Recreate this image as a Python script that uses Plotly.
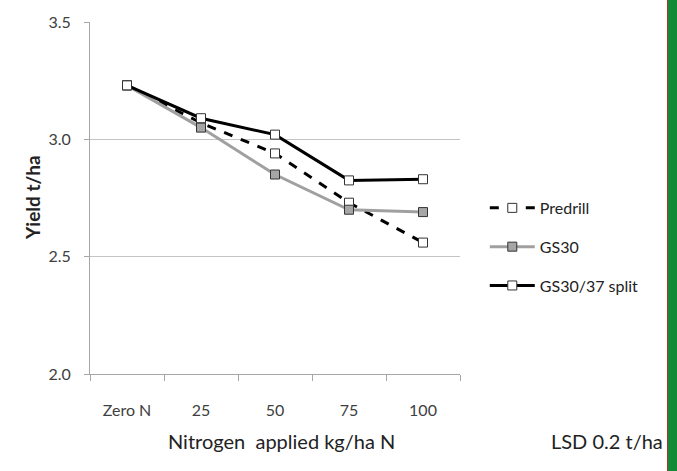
import plotly.graph_objects as go

categories = ["Zero N", "25", "50", "75", "100"]
predrill = [3.23, 3.07, 2.94, 2.73, 2.56]
gs30 = [3.23, 3.05, 2.85, 2.70, 2.69]
gs30_37 = [3.23, 3.09, 3.02, 2.825, 2.83]

FONT = "Lato, Open Sans, sans-serif"

fig = go.Figure()
fig.add_trace(go.Scatter(
    x=categories, y=predrill, name="Predrill", mode="lines+markers",
    line=dict(color="black", width=3, dash="dash"),
    marker=dict(symbol="square", size=9, color="white", line=dict(color="#333", width=1)),
    legendgroup="a"))
fig.add_trace(go.Scatter(
    x=categories, y=gs30, name="GS30", mode="lines+markers",
    line=dict(color="#a0a0a0", width=3),
    marker=dict(symbol="square", size=9, color="#a6a6a6", line=dict(color="#333", width=1)),
    legendgroup="b"))
fig.add_trace(go.Scatter(
    x=categories, y=gs30_37, name="GS30/37 split", mode="lines+markers",
    line=dict(color="black", width=3),
    marker=dict(symbol="square", size=9, color="white", line=dict(color="#333", width=1)),
    legendgroup="c"))

fig.update_layout(
    width=677, height=471,
    margin=dict(l=90, r=217, t=19, b=97),
    paper_bgcolor="white", plot_bgcolor="white",
    font=dict(family=FONT, size=15, color="#404040"),
    showlegend=True,
    legend=dict(x=1.067, y=0.52, xanchor="left", yanchor="top", itemwidth=45,
                font=dict(family=FONT, size=16, color="#222"),
                tracegroupgap=15, bgcolor="rgba(0,0,0,0)"),
    xaxis=dict(type="category", range=[-0.5, 4.5], showgrid=False,
               showline=True, linecolor="#a6a6a6", linewidth=1,
               ticks="outside", tickson="boundaries", ticklen=6, tickcolor="#a6a6a6",
               ticklabelstandoff=22, tickfont=dict(size=16, color="#404040")),
    yaxis=dict(range=[2.0, 3.5], dtick=0.5, tickformat=".1f",
               showgrid=True, gridcolor="#c4c4c4", gridwidth=1,
               showline=True, linecolor="#a6a6a6", linewidth=1,
               ticks="outside", ticklen=5, tickcolor="#a6a6a6", ticklabelstandoff=10,
               tickfont=dict(size=16, color="#404040"), zeroline=False),
    annotations=[
        dict(text="<b>Yield t/ha</b>", textangle=-90, xref="paper", yref="paper",
             x=(19 - 90) / 370, y=(374 - 196) / 355, showarrow=False,
             font=dict(size=19, color="#222")),
        dict(text="Nitrogen  applied kg/ha N", xref="paper", yref="paper",
             x=(281 - 90) / 370, y=(374 - 456) / 355, showarrow=False,
             font=dict(size=20, color="#222")),
        dict(text="LSD 0.2 t/ha", xref="paper", yref="paper", xanchor="right",
             x=(665 - 90) / 370, y=(374 - 456) / 355, showarrow=False,
             font=dict(size=20, color="#222")),
    ],
    shapes=[
        dict(type="rect", xref="paper", yref="paper",
             x0=(668 - 90) / 370, x1=(680 - 90) / 370, y0=-0.5, y1=1.5,
             fillcolor="#138a36", line=dict(width=0)),
        dict(type="line", xref="paper", yref="paper",
             x0=(667.5 - 90) / 370, x1=(667.5 - 90) / 370, y0=-0.5, y1=1.5,
             line=dict(color="#b03030", width=1)),
    ],
)

fig.write_html("out.html")
